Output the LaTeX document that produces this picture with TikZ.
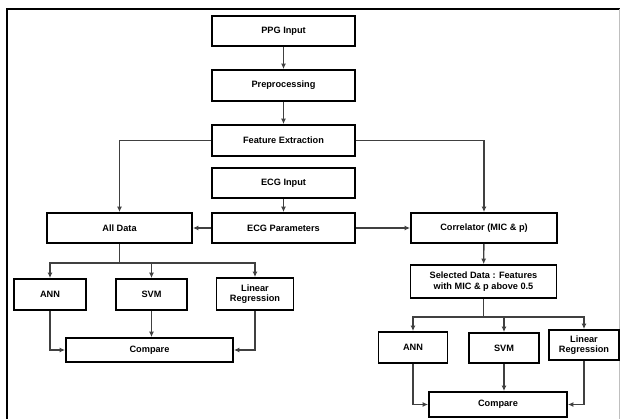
\documentclass[tikz,border=0pt]{standalone}
\usepackage{fontspec}
\setmainfont{Liberation Sans}
\usepackage{tikz}
\usetikzlibrary{arrows.meta}

\begin{document}
\begin{tikzpicture}[x=1pt,y=1pt]
		\tikzset{>={Latex[length=5.5pt,width=5pt]},
			box/.style={draw,line width=1.8pt,inner sep=1pt,align=center,
				font=\fontsize{9.2}{10.5}\selectfont\bfseries},
			link/.style={->,draw=black!75,line width=1.4pt}}
		
		\useasboundingbox (0,0) rectangle (623,-419);
		\draw[line width=1.8pt] (7,-419) -- (7,-9) -- (620,-9);
		\draw[black!25,line width=0.8pt] (619.5,-9) -- (619.5,-419);
		
		\node[box,minimum width=143,minimum height=30] (ppg) at (283.5,-31) {PPG Input};
		\node[box,minimum width=143,minimum height=31] (pre) at (283.5,-85.5) {Preprocessing};
		\node[box,minimum width=143,minimum height=31] (feat) at (283.5,-140.5) {Feature Extraction};
		\node[box,minimum width=143,minimum height=30] (ecgin) at (283.5,-183) {ECG Input};
		\node[box,minimum width=143,minimum height=30] (ecgpar) at (283.5,-228) {ECG Parameters};
		
		\node[box,minimum width=145,minimum height=30] (all) at (119.5,-228) {All Data};
		\node[box,minimum width=72,minimum height=31] (annL) at (50,-294.5) {ANN};
		\node[box,minimum width=71,minimum height=31] (svmL) at (151.5,-294.5) {SVM};
		\node[box,minimum width=77,minimum height=32] (lrL) at (255,-294) {Linear\\Regression};
		\node[box,minimum width=167,minimum height=24] (cmpL) at (149.5,-350) {Compare};
		
		\node[box,minimum width=146,minimum height=30] (corr) at (484,-228) {Correlator (MIC \& p)};
		\node[box,minimum width=146,minimum height=33] (sel) at (483.5,-281.5) {Selected Data : Features\\with MIC \& p above 0.5};
		\node[box,minimum width=69,minimum height=31] (annR) at (413,-347.5) {ANN};
		\node[box,minimum width=70,minimum height=30] (svmR) at (504,-348) {SVM};
		\node[box,minimum width=70,minimum height=30] (lrR) at (584,-345) {Linear\\Regression};
		\node[box,minimum width=138,minimum height=25] (cmpR) at (498,-404.5) {Compare};
		
		\coordinate (lb) at (119.5,-263);
		\coordinate (rb) at (483.5,-317);
		
		\draw[link] (ppg) -- (pre);
		\draw[link] (pre) -- (feat);
		\draw[link] (ecgin) -- (ecgpar);
		\draw[link] (feat.west) -| (all.north);
		\draw[link] (feat.east) -| (corr.north);
		\draw[link] (ecgpar) -- (all);
		\draw[link] (ecgpar) -- (corr);
		
		\draw[link,-] (all.south) -- (lb);
		\draw[link] (lb) -| (annL.north);
		\draw[link] (lb) -| (svmL.north);
		\draw[link] (lb) -| (lrL.north);
		\draw[link] (annL.south) |- (cmpL.west);
		\draw[link] (svmL.south) -- (svmL.south |- cmpL.north);
		\draw[link] (lrL.south) |- (cmpL.east);
		
		\draw[link] (corr) -- (sel);
		\draw[link,-] (sel.south) -- (rb);
		\draw[link] (rb) -| (annR.north);
		\draw[link] (rb) -| (svmR.north);
		\draw[link] (rb) -| (lrR.north);
		\draw[link] (annR.south) |- (cmpR.west);
		\draw[link] (svmR.south) -- (svmR.south |- cmpR.north);
		\draw[link] (lrR.south) |- (cmpR.east);
		
	\end{tikzpicture}
\end{document}
